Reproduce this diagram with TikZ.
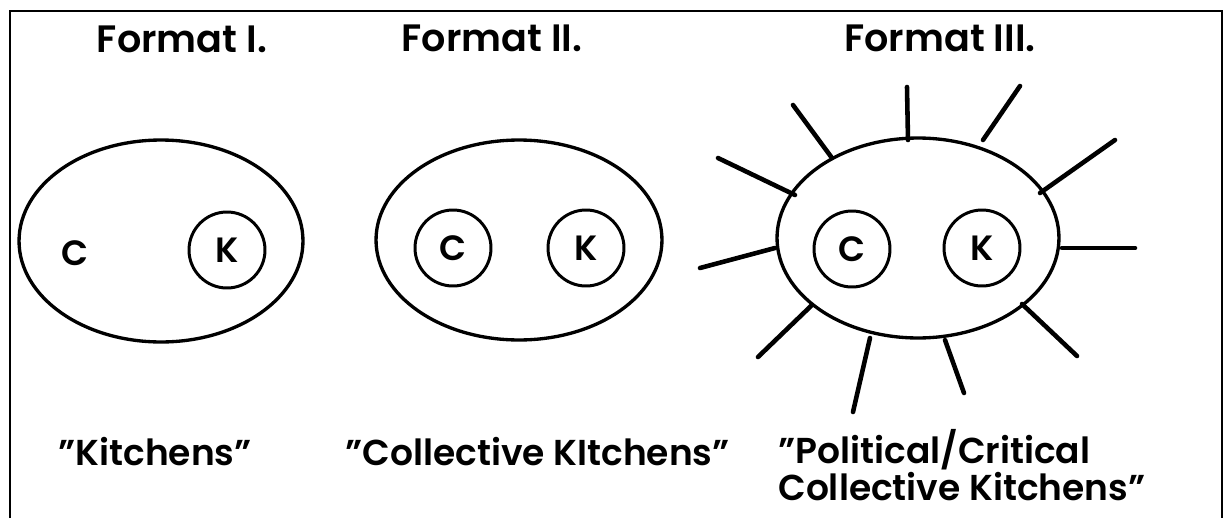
\documentclass[tikz,border=0pt]{standalone}
\usepackage{fontspec}
\setmainfont{Poppins}[UprightFont=* SemiBold]
\usetikzlibrary{shapes.geometric}
\tikzset{
  frame/.style={line width=1.2pt},
  hull/.style={draw, ellipse, line width=1.9pt, inner sep=0pt},
  ring/.style={draw, circle, line width=1.7pt, minimum size=1.52cm, inner sep=0pt,
               font=\fontsize{20}{20}\selectfont},
  letter/.style={inner sep=0pt, font=\fontsize{20}{20}\selectfont},
  title/.style={anchor=base, inner sep=0pt, font=\fontsize{21.7}{21.7}\selectfont},
  caption/.style={anchor=base west, inner sep=0pt, align=left,
                  font=\fontsize{20.5}{19.5}\selectfont},
  ray/.style={line width=2.6pt, line cap=round},
}

\begin{document}
\begin{tikzpicture}[x=0.02cm, y=-0.02cm]
  \useasboundingbox (0,0) rectangle (1225,518);
  \draw[frame] (10,518) -- (10,11) -- (1222,11) -- (1222,518);

  % titles
  \node[title] (t1) at (182,52) {Format I.};
  \node[title] (t2) at (492,51) {Format II.};
  \node[title] (t3) at (940,51) {Format III.};

  % format I
  \node[hull, minimum width=5.68cm, minimum height=4.04cm] (e1) at (161,241) {};
  \node[letter] (c1) at (75,253) {C};
  \node[ring] (k1) at (227,250) {K};

  % format II
  \node[hull, minimum width=5.72cm, minimum height=4cm] (e2) at (519,240) {};
  \node[ring] (c2) at (453,248) {C};
  \node[ring] (k2) at (586,248) {K};

  % format III
  \node[hull, minimum width=5.64cm, minimum height=4cm] (e3) at (918,238) {};
  \node[ring] (c3) at (852,249) {C};
  \node[ring] (k3) at (982,248) {K};
  \foreach \sx/\sy/\ex/\ey in {832/158/793/105, 795/195/718/158, 908/140/907/87,
      983/140/1020/86, 1040/193/1115/140, 775/248/700/268, 1062/248/1135/248,
      812/305/758/357, 870/338/853/412, 945/340/964/393, 1022/304/1077/356}
    \draw[ray] (\sx,\sy) -- (\ex,\ey);

  % captions
  \node[caption] (l1) at (58,465) {"Kitchens"};
  \node[caption] (l2) at (345,465) {"Collective KItchens"};
  \node[caption] (l3) at (778,500) {"Political/Critical\\Collective Kitchens"};
\end{tikzpicture}
\end{document}
